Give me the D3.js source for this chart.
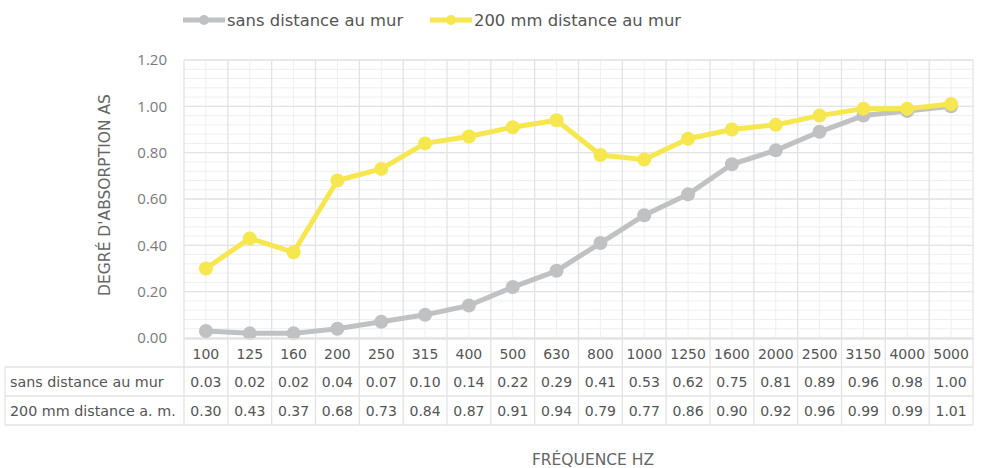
<!DOCTYPE html>
<html><head><meta charset="utf-8">
<script src="https://cdn.jsdelivr.net/npm/d3@7"></script>
<style>body{margin:0;background:#fff}</style>
</head><body>
<script>
const categories = ["100","125","160","200","250","315","400","500","630","800","1000","1250","1600","2000","2500","3150","4000","5000"];
const seriesNames = ["sans distance au mur","200 mm distance au mur"];
const tableNames = ["sans distance au mur","200 mm distance a. m."];
const sansDistance = [0.03,0.02,0.02,0.04,0.07,0.10,0.14,0.22,0.29,0.41,0.53,0.62,0.75,0.81,0.89,0.96,0.98,1.00];
const distance200 = [0.30,0.43,0.37,0.68,0.73,0.84,0.87,0.91,0.94,0.79,0.77,0.86,0.90,0.92,0.96,0.99,0.99,1.01];
const yTicks = [0,0.2,0.4,0.6,0.8,1.0,1.2];
const colors = ["#bfc1c3","#f6e74e"];

const W=983,H=468;
const svg=d3.select("body").append("svg").attr("width",W).attr("height",H);
const pL=184,pR=973,pT=60,pB=338;
const x=d3.scaleBand().domain(categories).range([pL,pR]);
const y=d3.scaleLinear().domain([0,1.2]).range([pB,pT]);
const gridC="#e3e3e3", minorC="#efefef";

// minor horizontal grid
const minor=d3.range(0,1.2001,0.04);
svg.append("g").selectAll("line").data(minor).join("line")
  .attr("x1",pL).attr("x2",pR).attr("y1",d=>y(d)).attr("y2",d=>y(d))
  .attr("stroke",minorC).attr("stroke-width",1);
// minor vertical at centers
svg.append("g").selectAll("line").data(categories).join("line")
  .attr("x1",d=>x(d)+x.bandwidth()/2).attr("x2",d=>x(d)+x.bandwidth()/2)
  .attr("y1",pT).attr("y2",pB).attr("stroke",minorC);
// major horizontal
svg.append("g").selectAll("line").data(yTicks).join("line")
  .attr("x1",pL).attr("x2",pR).attr("y1",d=>y(d)).attr("y2",d=>y(d))
  .attr("stroke",gridC).attr("stroke-width",1.3);
// major vertical boundaries
const bounds=categories.map(c=>x(c)).concat([pR]);
svg.append("g").selectAll("line").data(bounds).join("line")
  .attr("x1",d=>d).attr("x2",d=>d).attr("y1",pT).attr("y2",367)
  .attr("stroke",gridC).attr("stroke-width",1.3);

// y axis labels
const yAxis=d3.axisLeft(y).tickValues(yTicks).tickFormat(d3.format(".2f")).tickSize(0).tickPadding(17);
const ga=svg.append("g").attr("transform",`translate(${pL},0)`).call(yAxis);
ga.select(".domain").remove();
ga.selectAll("text").attr("font-family","Open Sans").attr("font-size",15).attr("fill","#7a7a7a");

// axis titles
svg.append("text").attr("transform","translate(110,195) rotate(-90)").attr("text-anchor","middle")
  .attr("font-family","DejaVu Sans").attr("font-size",15.5).attr("fill","#666").text("DEGRÉ D'ABSORPTION AS");
svg.append("text").attr("x",593).attr("y",465).attr("text-anchor","middle")
  .attr("font-family","DejaVu Sans").attr("font-size",15.5).attr("fill","#666").text("FRÉQUENCE HZ");

// lines
const series=[sansDistance,distance200];
const line=d3.line().x((d,i)=>x(categories[i])+x.bandwidth()/2).y(d=>y(d));
series.forEach((s,k)=>{
  svg.append("path").datum(s).attr("d",line).attr("fill","none").attr("stroke",colors[k]).attr("stroke-width",5).attr("stroke-linejoin","round");
  svg.append("g").selectAll("circle").data(s).join("circle")
    .attr("cx",(d,i)=>x(categories[i])+x.bandwidth()/2).attr("cy",d=>y(d)).attr("r",7).attr("fill",colors[k]);
});

// table
const tf="DejaVu Sans", tc="#555";
const rowY=[339,367,396,425];
[[pL,rowY[0]],[5,rowY[1]],[5,rowY[2]],[5,rowY[3]]].forEach(([x0,yy])=>{
  svg.append("line").attr("x1",x0).attr("x2",pR).attr("y1",yy).attr("y2",yy).attr("stroke",gridC).attr("stroke-width",1.3);
});
svg.append("line").attr("x1",5).attr("x2",5).attr("y1",rowY[1]).attr("y2",rowY[3]).attr("stroke",gridC).attr("stroke-width",1.3);
svg.append("g").selectAll("line").data(bounds).join("line")
  .attr("x1",d=>d).attr("x2",d=>d).attr("y1",rowY[1]).attr("y2",rowY[3]).attr("stroke",gridC).attr("stroke-width",1.3);
svg.append("g").selectAll("text").data(categories).join("text")
  .attr("x",d=>x(d)+x.bandwidth()/2).attr("y",359).attr("text-anchor","middle")
  .attr("font-family",tf).attr("font-size",14).attr("fill",tc).text(d=>d);
series.forEach((s,k)=>{
  const ty=(rowY[k+1]+rowY[k+2])/2+5;
  svg.append("text").attr("x",10).attr("y",ty).attr("font-family",tf).attr("font-size",14.3).attr("fill",tc).text(tableNames[k]);
  svg.append("g").selectAll("text").data(s).join("text")
    .attr("x",(d,i)=>x(categories[i])+x.bandwidth()/2).attr("y",ty).attr("text-anchor","middle")
    .attr("font-family",tf).attr("font-size",14).attr("fill",tc).text(d=>d.toFixed(2));
});

// legend
const legX=[183,430];
seriesNames.forEach((n,k)=>{
  const g=svg.append("g").attr("transform",`translate(${legX[k]},20)`);
  g.append("line").attr("x1",0).attr("x2",42).attr("stroke",colors[k]).attr("stroke-width",5);
  g.append("circle").attr("cx",21).attr("r",5).attr("fill",colors[k]);
  g.append("text").attr("x",44).attr("y",6).attr("font-family",tf).attr("font-size",16.4).attr("fill",tc).text(n);
});
</script>
</body></html>
